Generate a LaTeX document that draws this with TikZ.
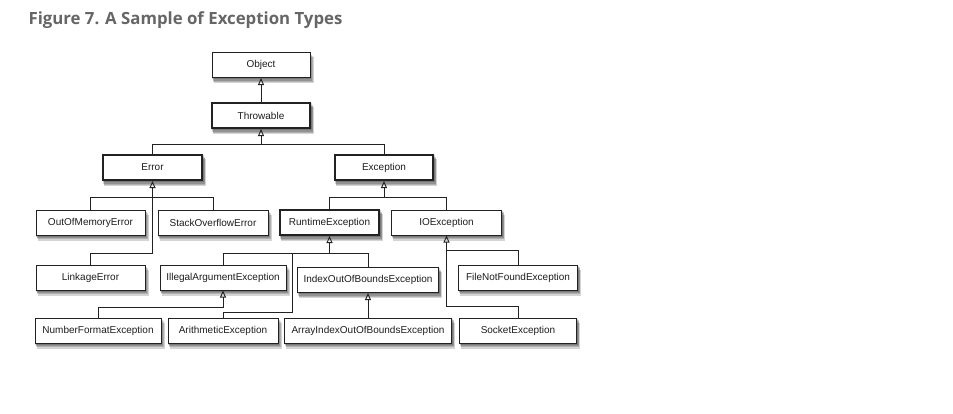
\documentclass[tikz,border=0pt]{standalone}
\usepackage{fontspec}
\setmainfont{Liberation Sans}
\newfontfamily\titlefont{Open Sans}
\usetikzlibrary{arrows.meta,backgrounds}
\definecolor{titlegray}{RGB}{102,102,102}
\definecolor{linegray}{RGB}{34,34,34}
\definecolor{textgray}{RGB}{30,30,30}
\begin{document}
\begin{tikzpicture}[x=1pt,y=-1pt,
  cls/.style={draw=linegray, line width=1pt, fill=white, minimum height=25pt, inner sep=0pt,
    text=textgray, font=\fontsize{10}{12}\selectfont},
  key/.style={cls, line width=2pt},
  conn/.style={draw=linegray, line width=1pt},
  inh/.style={conn, -{Triangle[open,length=7pt,width=6pt,line width=0.9pt]}},
  shad/.style={fill=black, opacity=0.17}]
\useasboundingbox (0,0) rectangle (953,413);
\node[anchor=base west, text=titlegray, font=\titlefont\bfseries\fontsize{16.8}{20}\selectfont] (title) at (25,24.5) {Figure 7. A Sample of Exception Types};
% classes
\node[cls, minimum width=98pt] (object) at (261,65) {Object};
\node[key, minimum width=98pt] (throwable) at (261,115.5) {Throwable};
\node[key, minimum width=99pt] (error) at (152.5,167.5) {Error};
\node[key, minimum width=98pt] (exception) at (384,167.5) {Exception};
\node[cls, minimum width=109pt] (oom) at (90.5,222.5) {OutOfMemoryError};
\node[cls, minimum width=110pt] (so) at (213,222.5) {StackOverflowError};
\node[key, minimum width=99pt] (runtime) at (329.5,222.5) {RuntimeException};
\node[cls, minimum width=110pt] (io) at (446.5,222.5) {IOException};
\node[cls, minimum width=109pt] (linkage) at (90.5,277.5) {LinkageError};
\node[cls, minimum width=126pt] (illegal) at (223,277.5) {IllegalArgumentException};
\node[cls, minimum width=141pt] (indexoob) at (368,280) {IndexOutOfBoundsException};
\node[cls, minimum width=119pt] (filenf) at (518,277.5) {FileNotFoundException};
\node[cls, minimum width=126pt] (numfmt) at (98,330.5) {NumberFormatException};
\node[cls, minimum width=110pt] (arith) at (223,330.5) {ArithmeticException};
\node[cls, minimum width=167pt] (arrayidx) at (368,330.5) {ArrayIndexOutOfBoundsException};
\node[cls, minimum width=117pt] (socket) at (518,330.5) {SocketException};
\coordinate (rtjoin) at (292,253);
% shadows
\begin{pgfonlayer}{background}
\fill[white] (0,0) rectangle (953,413);
\foreach \n in {object,throwable,error,exception,oom,so,runtime,io,linkage,illegal,indexoob,filenf,numfmt,arith,arrayidx,socket}{
  \foreach \k in {1,2,3,4}{
    \fill[shad] ([xshift=\k*0.6pt, yshift=-\k*1.3pt]\n.south west) rectangle ([xshift=\k*0.8pt, yshift=-\k*1.3pt]\n.north east);
  }
}
\end{pgfonlayer}
% connectors
\draw[inh] (throwable.north) -- (object.south);
\draw[conn] (error.north) -- (error.north |- 0,144) -| (exception.north);
\draw[inh] (throwable.south |- 0,144) -- (throwable.south);
\draw[conn] (oom.north) -- (oom.north |- 0,197) -| (so.north);
\draw[inh] (linkage.north) -- (linkage.north |- 0,253) -| (error.south);
\draw[conn] (runtime.north) -- (runtime.north |- 0,197) -| (io.north);
\draw[inh] (exception.south |- 0,197) -- (exception.south);
\draw[conn] (illegal.north) -- (illegal.north |- 0,253) -| (indexoob.north);
\draw[inh] (runtime.south |- 0,253) -- (runtime.south);
\draw[conn] (arith.north) -- (arith.north |- 0,312) -| (rtjoin);
\draw[inh] (numfmt.north) -- (numfmt.north |- 0,307) -| (illegal.south);
\draw[inh] (arrayidx.north) -- (arrayidx.north |- indexoob.south);
\draw[inh] (socket.north) -- (socket.north |- 0,306) -| (io.south);
\draw[conn] (filenf.north) |- (io.south |- 0,250);
\end{tikzpicture}
\end{document}
